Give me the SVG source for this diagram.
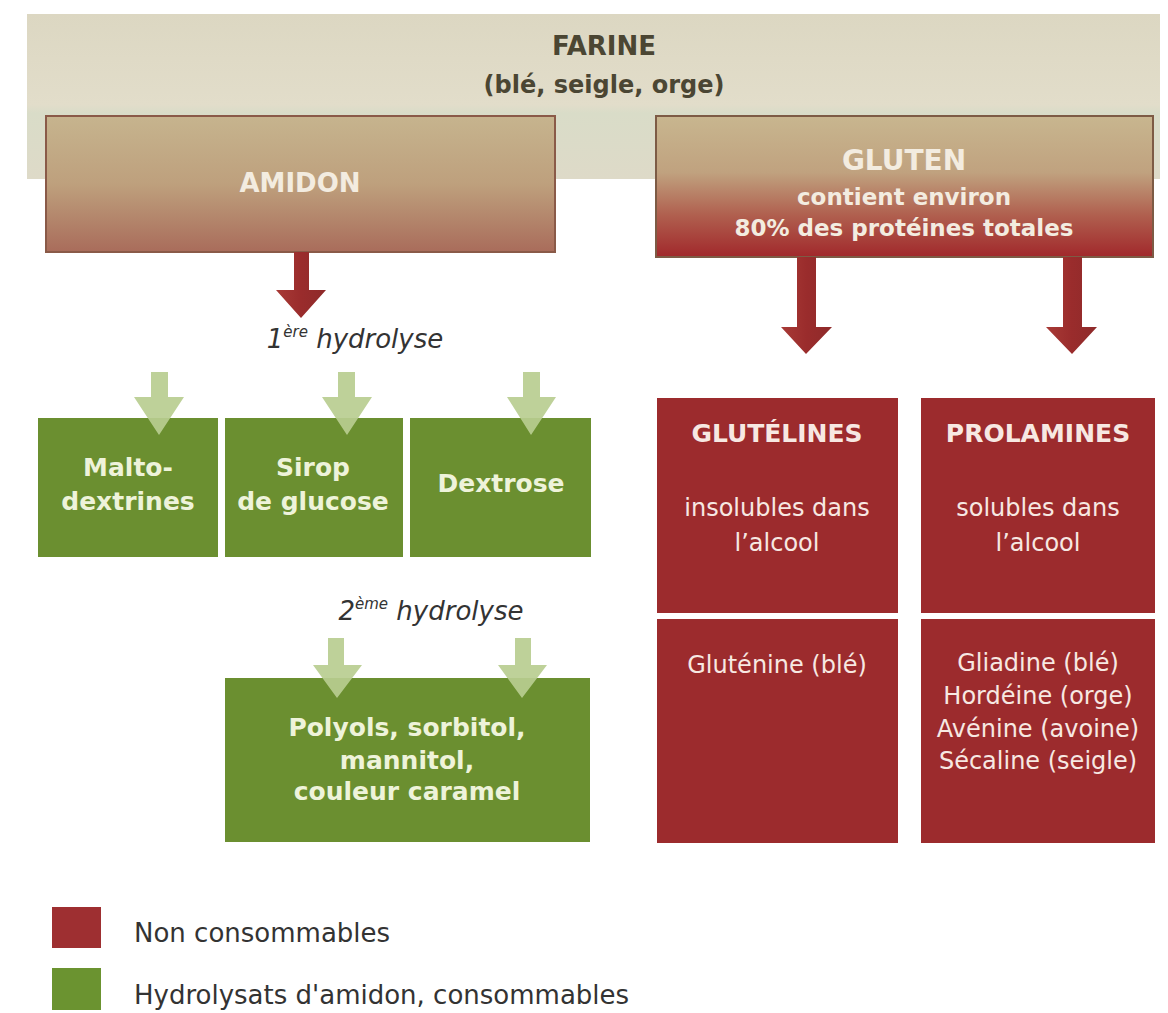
<svg xmlns="http://www.w3.org/2000/svg" width="1168" height="1013" viewBox="0 0 1168 1013">
<defs>
<linearGradient id="gBand" x1="0" y1="0" x2="0" y2="1">
<stop offset="0" stop-color="#dcd7c2"/>
<stop offset="0.55" stop-color="#e2ddca"/>
<stop offset="0.6" stop-color="#d9dcc8"/>
<stop offset="1" stop-color="#dedac8"/>
</linearGradient>
<linearGradient id="gAmidon" x1="0" y1="0" x2="0" y2="1">
<stop offset="0" stop-color="#c6b48e"/>
<stop offset="0.5" stop-color="#bea07d"/>
<stop offset="1" stop-color="#a96c5b"/>
</linearGradient>
<linearGradient id="gGluten" x1="0" y1="0" x2="0" y2="1">
<stop offset="0" stop-color="#c8b68f"/>
<stop offset="0.4" stop-color="#c0a27f"/>
<stop offset="0.7" stop-color="#b0604f"/>
<stop offset="1" stop-color="#a1282b"/>
</linearGradient>
<linearGradient id="gRedArrow" x1="0" y1="0" x2="1" y2="0">
<stop offset="0" stop-color="#a83a36"/>
<stop offset="0.5" stop-color="#9a2c2c"/>
<stop offset="1" stop-color="#8e2a2a"/>
</linearGradient>
</defs>
<style>
.txt{font-family:"DejaVu Sans","Liberation Sans",sans-serif;text-anchor:middle}
.dark{fill:#4b4633;font-weight:bold}
.light{fill:#f3ece0;font-weight:bold}
.gtxt{fill:#eef3da;font-weight:bold;font-size:25px}
.rtitle{fill:#f7e8e2;font-weight:bold;font-size:25px}
.rtxt{fill:#f7e8e2;font-size:24px}
.hyd{fill:#333333;font-style:italic;font-size:26px}
.green{fill:#6b8f30}
.red{fill:#9c2b2d}
.garrow{fill:#b8cd90;opacity:0.92}
.rarrow{fill:url(#gRedArrow)}
.legend{font-family:"DejaVu Sans","Liberation Sans",sans-serif;font-size:26px;fill:#333333}
</style>
<rect x="0" y="0" width="1168" height="1013" fill="#ffffff"/>

<g id="farine">
<rect x="27" y="14" width="1133" height="165" fill="url(#gBand)"/>
<text class="txt dark" x="604" y="55" font-size="26">FARINE</text>
<text class="txt dark" x="604" y="93" font-size="24">(blé, seigle, orge)</text>
</g>

<g id="amidon">
<rect x="46" y="116" width="509" height="136" fill="url(#gAmidon)" stroke="#8a5a48" stroke-width="2"/>
<text class="txt light" x="300" y="192" font-size="26">AMIDON</text>
</g>

<g id="gluten">
<rect x="656" y="116" width="497" height="141" fill="url(#gGluten)" stroke="#7d5b45" stroke-width="2"/>
<text class="txt light" x="904" y="170" font-size="28">GLUTEN</text>
<text class="txt light" x="904" y="205" font-size="23">contient environ</text>
<text class="txt light" x="904" y="236" font-size="23">80% des protéines totales</text>
</g>

<g id="label-hydrolyse1">
<text class="txt hyd" x="355" y="348">1<tspan dy="-11" font-size="15">ère</tspan><tspan dy="11"> hydrolyse</tspan></text>
</g>

<g id="maltodextrines">
<rect class="green" x="38" y="418" width="180" height="139"/>
<text class="txt gtxt" x="128" y="476">Malto-</text>
<text class="txt gtxt" x="128" y="510">dextrines</text>
</g>

<g id="sirop">
<rect class="green" x="225" y="418" width="178" height="139"/>
<text class="txt gtxt" x="313" y="476">Sirop</text>
<text class="txt gtxt" x="313" y="510">de glucose</text>
</g>

<g id="dextrose">
<rect class="green" x="410" y="418" width="181" height="139"/>
<text class="txt gtxt" x="501" y="492">Dextrose</text>
</g>

<g id="label-hydrolyse2">
<text class="txt hyd" x="431" y="620">2<tspan dy="-11" font-size="15">ème</tspan><tspan dy="11"> hydrolyse</tspan></text>
</g>

<g id="polyols">
<rect class="green" x="225" y="678" width="365" height="164"/>
<text class="txt gtxt" x="407" y="736">Polyols, sorbitol,</text>
<text class="txt gtxt" x="407" y="769">mannitol,</text>
<text class="txt gtxt" x="407" y="800">couleur caramel</text>
</g>

<g id="glutelines">
<rect class="red" x="657" y="398" width="241" height="215"/>
<text class="txt rtitle" x="777" y="442">GLUTÉLINES</text>
<text class="txt rtxt" x="777" y="516">insolubles dans</text>
<text class="txt rtxt" x="777" y="551">l’alcool</text>
</g>

<g id="glutenine">
<rect class="red" x="657" y="619" width="241" height="224"/>
<text class="txt rtxt" x="777" y="673">Gluténine (blé)</text>
</g>

<g id="prolamines">
<rect class="red" x="921" y="398" width="234" height="215"/>
<text class="txt rtitle" x="1038" y="442">PROLAMINES</text>
<text class="txt rtxt" x="1038" y="516">solubles dans</text>
<text class="txt rtxt" x="1038" y="551">l’alcool</text>
</g>

<g id="prolamines-list">
<rect class="red" x="921" y="619" width="234" height="224"/>
<text class="txt rtxt" x="1038" y="671">Gliadine (blé)</text>
<text class="txt rtxt" x="1038" y="704">Hordéine (orge)</text>
<text class="txt rtxt" x="1038" y="737">Avénine (avoine)</text>
<text class="txt rtxt" x="1038" y="769">Sécaline (seigle)</text>
</g>

<g id="connectors">
<polygon class="rarrow" points="294,252 309,252 309,290 326,290 301,318 276,290 294,290"/>
<polygon class="rarrow" points="797,257 816,257 816,327 832,327 806,354 781,327 797,327"/>
<polygon class="rarrow" points="1063,257 1082,257 1082,327 1097,327 1072,354 1046,327 1063,327"/>
<polygon class="garrow" points="151,372 168,372 168,397 184,397 159,435 134,397 151,397"/>
<polygon class="garrow" points="338,372 355,372 355,397 372,397 347,435 322,397 338,397"/>
<polygon class="garrow" points="523,372 540,372 540,397 556,397 531,435 507,397 523,397"/>
<polygon class="garrow" points="328,638 344,638 344,665 362,665 337,698 313,665 328,665"/>
<polygon class="garrow" points="515,638 531,638 531,665 547,665 522,698 498,665 515,665"/>
</g>

<g id="legend">
<rect x="52" y="907" width="49" height="41" fill="#9e2f31"/>
<rect x="52" y="968" width="49" height="42" fill="#6b9330"/>
<text class="legend" x="134" y="942">Non consommables</text>
<text class="legend" x="134" y="1004">Hydrolysats d'amidon, consommables</text>
</g>
</svg>
